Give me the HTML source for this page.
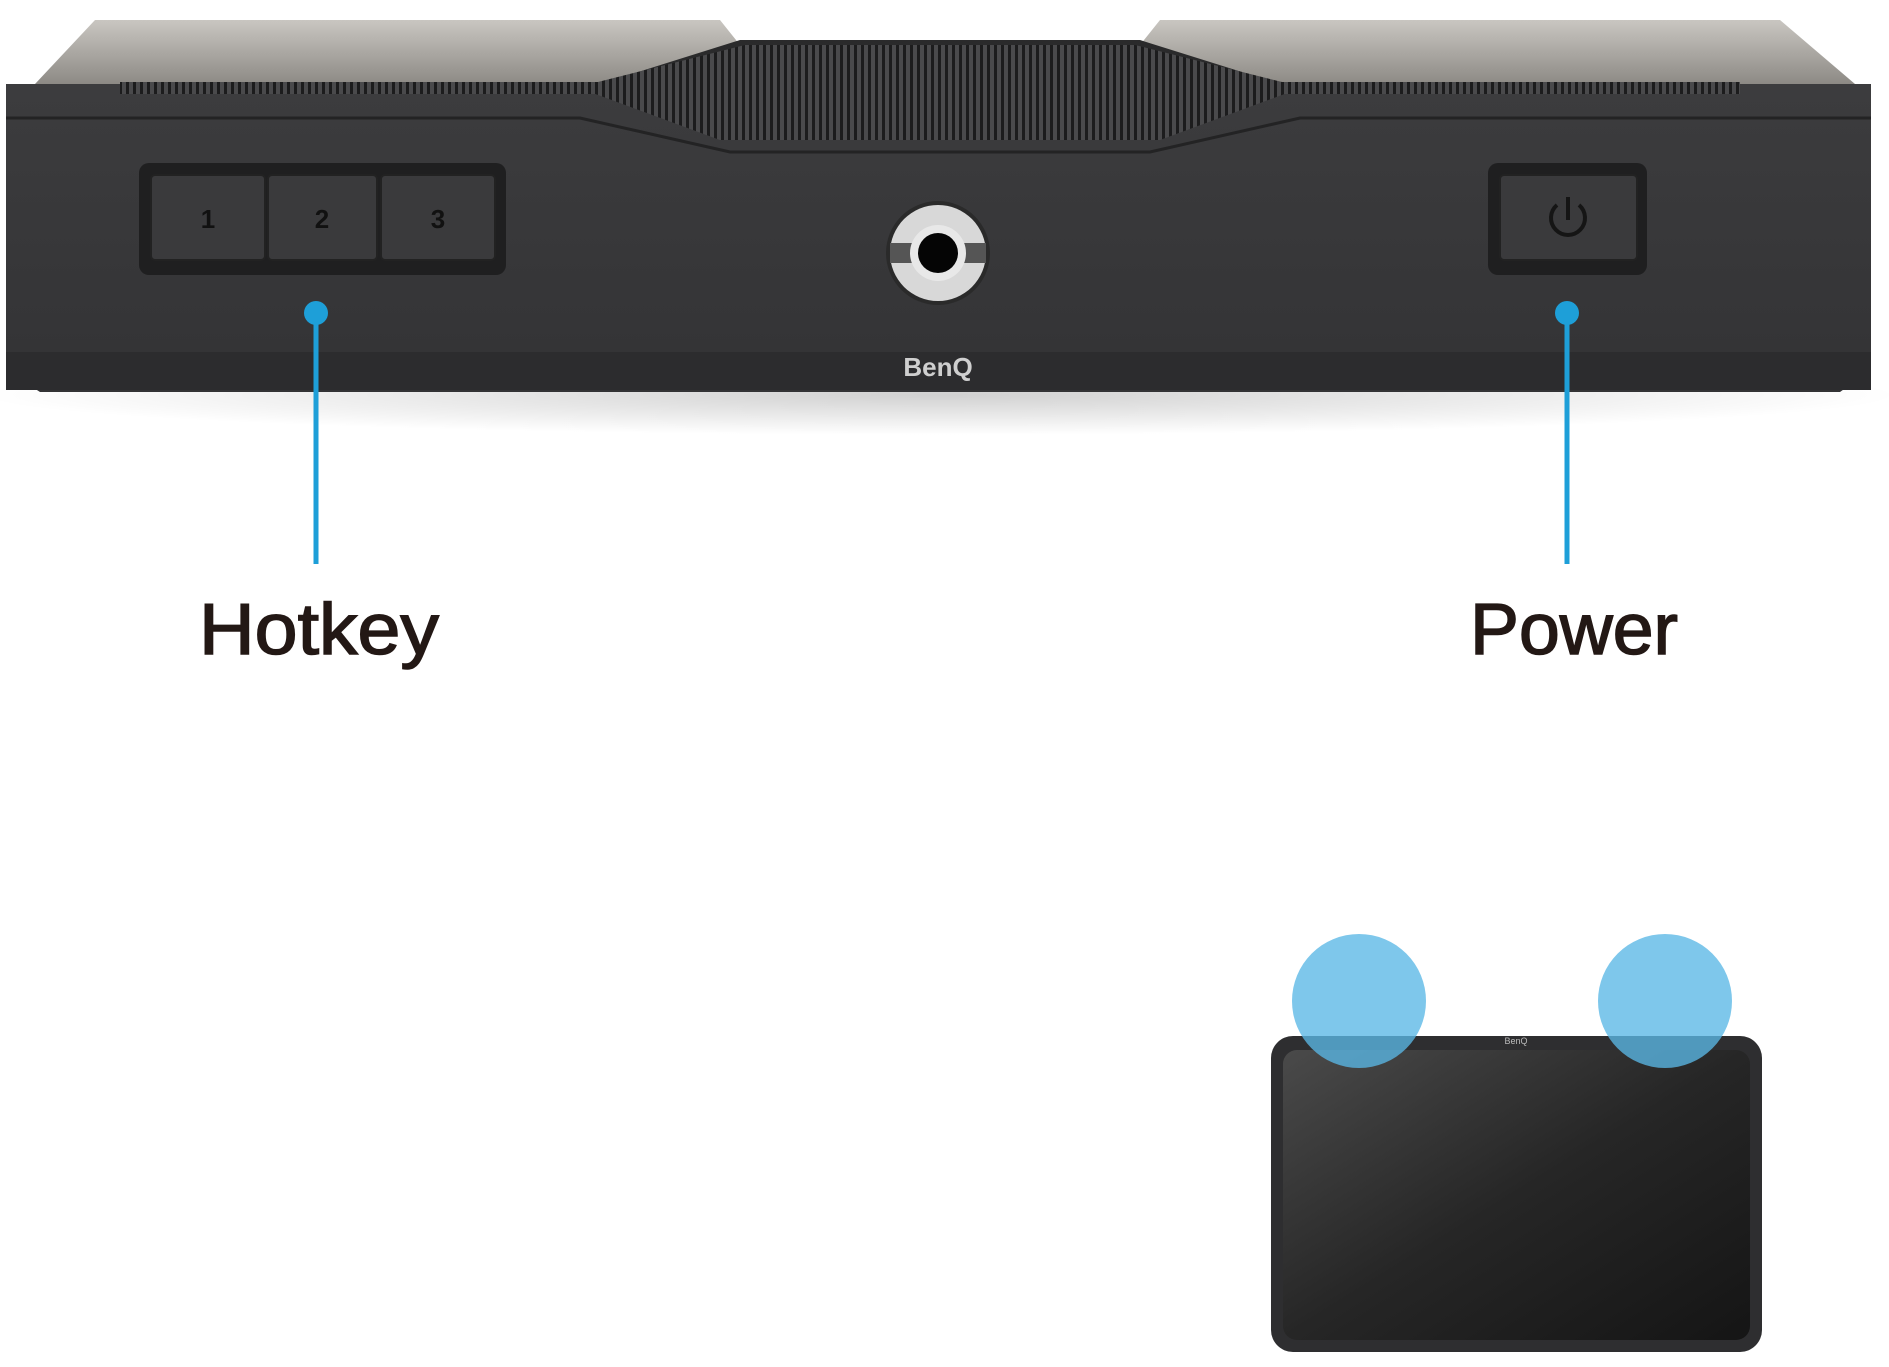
<!DOCTYPE html>
<html><head><style>
html,body{margin:0;padding:0;background:#fff;}
svg{display:block;}
text{font-family:"Liberation Sans",sans-serif;}
</style></head><body>
<svg width="1889" height="1367" viewBox="0 0 1889 1367" xmlns="http://www.w3.org/2000/svg">
<defs>
<linearGradient id="top" x1="0" y1="0" x2="0" y2="1"><stop offset="0" stop-color="#c9c6c1"/><stop offset="1" stop-color="#8d8a85"/></linearGradient>
<linearGradient id="face" x1="0" y1="0" x2="0" y2="1"><stop offset="0" stop-color="#3c3c3e"/><stop offset="1" stop-color="#333335"/></linearGradient>
<linearGradient id="scr" x1="0" y1="0" x2="1" y2="1"><stop offset="0" stop-color="#4a4a4a"/><stop offset="0.5" stop-color="#262626"/><stop offset="1" stop-color="#151515"/></linearGradient>
<pattern id="grill" width="7" height="10" patternUnits="userSpaceOnUse"><rect width="7" height="10" fill="#4a4a4c"/><rect width="3" height="10" fill="#1c1c1d"/></pattern>
<radialGradient id="shadow" cx="0.5" cy="0.5" r="0.5"><stop offset="0" stop-color="#000" stop-opacity="0.18"/><stop offset="1" stop-color="#000" stop-opacity="0"/></radialGradient>
</defs>
<rect width="1889" height="1367" fill="#fff"/>
<ellipse cx="940" cy="395" rx="960" ry="40" fill="url(#shadow)"/>
<path d="M35,84 L95,20 L720,20 L740,45 L1140,45 L1160,20 L1780,20 L1855,84 Z" fill="url(#top)"/>
<path d="M600,84 L740,40 L1140,40 L1280,84 Z" fill="#2a2a2b"/>
<path d="M6,84 L1871,84 L1871,370 L1840,392 L40,392 L6,370 Z" fill="url(#face)"/>
<rect x="120" y="82" width="1620" height="12" fill="url(#grill)"/>
<path d="M590,84 L745,45 L1135,45 L1290,84 L1290,92 L1160,140 L720,140 L590,92 Z" fill="url(#grill)"/>
<path d="M6,118 L580,118 L730,152 L1150,152 L1300,118 L1871,118" fill="none" stroke="#232324" stroke-width="3"/>
<rect x="6" y="352" width="1865" height="38" fill="#2c2c2e"/>
<rect x="139" y="163" width="367" height="112" rx="10" fill="#1f1f20"/>
<rect x="151" y="175" width="114" height="85" rx="4" fill="#3a3a3c" stroke="#222" stroke-width="2"/>
<rect x="268" y="175" width="109" height="85" rx="4" fill="#3a3a3c" stroke="#222" stroke-width="2"/>
<rect x="381" y="175" width="114" height="85" rx="4" fill="#3a3a3c" stroke="#222" stroke-width="2"/>
<text x="208" y="228" font-size="26" font-weight="bold" fill="#111" text-anchor="middle">1</text>
<text x="322" y="228" font-size="26" font-weight="bold" fill="#111" text-anchor="middle">2</text>
<text x="438" y="228" font-size="26" font-weight="bold" fill="#111" text-anchor="middle">3</text>
<circle cx="938" cy="253" r="52" fill="#2a2a2a"/>
<circle cx="938" cy="253" r="48" fill="#d8d8d8"/>
<rect x="890" y="243" width="96" height="20" fill="#555"/>
<circle cx="938" cy="253" r="28" fill="#e8e8e8"/>
<circle cx="938" cy="253" r="20" fill="#050505"/>
<rect x="1488" y="163" width="159" height="112" rx="10" fill="#1f1f20"/>
<rect x="1500" y="175" width="137" height="85" rx="4" fill="#3a3a3c" stroke="#222" stroke-width="2"/>
<path d="M1557,205 A17,17 0 1 0 1579,205" fill="none" stroke="#151515" stroke-width="4"/>
<line x1="1568" y1="197" x2="1568" y2="220" stroke="#151515" stroke-width="4"/>
<text x="938" y="376" font-size="26" font-weight="bold" fill="#cfcfcf" text-anchor="middle">BenQ</text>
<line x1="316" y1="313" x2="316" y2="564" stroke="#1e9fd8" stroke-width="5"/>
<circle cx="316" cy="313" r="12" fill="#1e9fd8"/>
<line x1="1567" y1="313" x2="1567" y2="564" stroke="#1e9fd8" stroke-width="5"/>
<circle cx="1567" cy="313" r="12" fill="#1e9fd8"/>
<text x="199" y="654" font-size="72" fill="#231815" stroke="#231815" stroke-width="1.5" textLength="240" lengthAdjust="spacingAndGlyphs">Hotkey</text>
<text x="1470" y="654" font-size="72" fill="#231815" stroke="#231815" stroke-width="1.5" textLength="208" lengthAdjust="spacingAndGlyphs">Power</text>
<rect x="1271" y="1036" width="491" height="316" rx="22" fill="#2e2e30"/>
<rect x="1283" y="1050" width="467" height="290" rx="14" fill="url(#scr)"/>
<text x="1516" y="1044" font-size="9" fill="#bbb" text-anchor="middle">BenQ</text>
<circle cx="1359" cy="1001" r="67" fill="#5ab7e6" fill-opacity="0.78"/>
<circle cx="1665" cy="1001" r="67" fill="#5ab7e6" fill-opacity="0.78"/>
</svg>
</body></html>
